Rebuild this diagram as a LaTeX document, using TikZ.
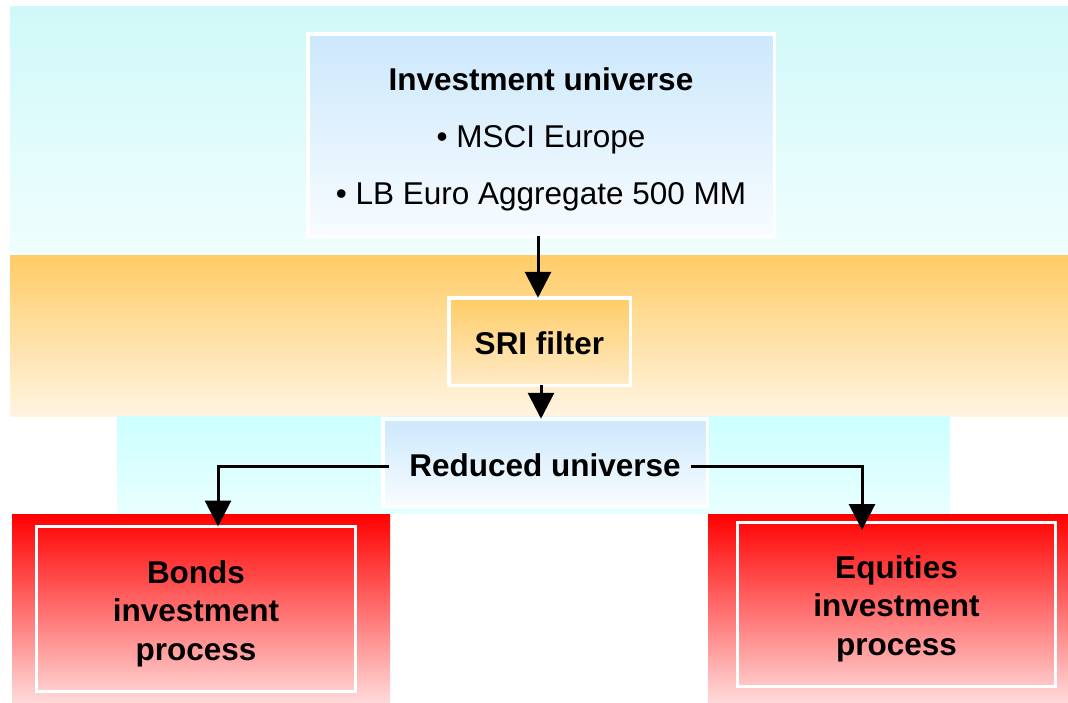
\documentclass[tikz,border=0pt]{standalone}
\usepackage{fontspec}
\setmainfont{Liberation Sans}
\usetikzlibrary{arrows.meta}
\definecolor{cyantop}{HTML}{D0F8F8}
\definecolor{cyanbot}{HTML}{F0FEFE}
\definecolor{orangetop}{HTML}{FFCC66}
\definecolor{orangebot}{HTML}{FFF4E2}
\definecolor{midtop}{HTML}{CCFFFF}
\definecolor{midbot}{HTML}{E8FFFF}
\definecolor{bluetop}{HTML}{CCE8FC}
\definecolor{bluebot}{HTML}{F8FCFF}
\definecolor{sritop}{HTML}{FFCC66}
\definecolor{sribot}{HTML}{FFEBC8}
\definecolor{redtop}{HTML}{FF0000}
\definecolor{redbot}{HTML}{FFDADA}
\begin{document}
\begin{tikzpicture}[x=1pt,y=-1pt,
  band/.style={draw=none,inner sep=0pt,outer sep=0pt},
  box/.style={draw=white,line width=3.5pt,inner sep=0pt,outer sep=0pt},
  redbox/.style={box,line width=3pt,fill=none},
  lbl/.style={inner sep=0pt,align=center,font=\fontsize{31.5}{38.5}\selectfont\bfseries},
  arr/.style={line width=3pt,-{Triangle[width=26pt,length=26pt]}}]
\useasboundingbox (0,0) rectangle (1068,702);
% background bands
\node[band,minimum width=1058pt,minimum height=249pt,top color=cyantop,bottom color=cyanbot] (topband) at (539,130.5) {};
\node[band,minimum width=1058pt,minimum height=161pt,top color=orangetop,bottom color=orangebot] (orangeband) at (539,335.5) {};
\node[band,minimum width=833pt,minimum height=97pt,top color=midtop,bottom color=midbot] (midband) at (533.5,464.5) {};
\node[band,minimum width=378pt,minimum height=188pt,top color=redtop,bottom color=redbot] (bondsbg) at (201,608) {};
\node[band,minimum width=360pt,minimum height=188pt,top color=redtop,bottom color=redbot] (equitiesbg) at (888,608) {};
% boxes
\node[box,minimum width=466.5pt,minimum height=202.5pt,top color=bluetop,bottom color=bluebot] (inv) at (541,135) {};
\node[box,minimum width=181.5pt,minimum height=87.5pt,top color=sritop,bottom color=sribot] (sri) at (539.5,341.5) {};
\node[box,minimum width=324.5pt,minimum height=87.5pt,top color=bluetop,bottom color=bluebot] (red) at (545,462.5) {};
\node[redbox,minimum width=319pt,minimum height=165pt] (bonds) at (196,609) {};
\node[redbox,minimum width=318pt,minimum height=164pt] (equities) at (896.5,604.5) {};
% labels
\node[lbl,font=\fontsize{31.5}{57}\selectfont] (invtext) at ([yshift=-4pt]inv.center)
  {\bfseries Investment universe\\ • MSCI Europe\\ • LB Euro Aggregate 500 MM};
\node[lbl] (sritext) at ([yshift=-2pt]sri.center) {SRI filter};
\node[lbl] (redtext) at ([yshift=-3pt]red.center) {Reduced universe};
\node[lbl] (bondstext) at ([yshift=-4.5pt]bonds.center) {Bonds\\investment\\process};
\node[lbl] (equitiestext) at ([yshift=-4pt]equities.center) {Equities\\investment\\process};
% connector ends
\coordinate (bondsin) at ([xshift=22pt]bonds.north);
\coordinate (eqin) at ([xshift=-34.5pt,yshift=-7.5pt]equities.north);
% connectors
\draw[arr] ([xshift=-3pt]inv.south) -- ([xshift=-3pt]inv.south |- sri.north);
\draw[arr] ([xshift=1.5pt]sri.south) -- ([xshift=1.5pt]sri.south |- red.north);
\draw[arr] ([xshift=6pt,yshift=-3.5pt]red.west) -| (bondsin);
\draw[arr] ([xshift=-16pt,yshift=-3.5pt]red.east) -| (eqin);
\end{tikzpicture}
\end{document}
